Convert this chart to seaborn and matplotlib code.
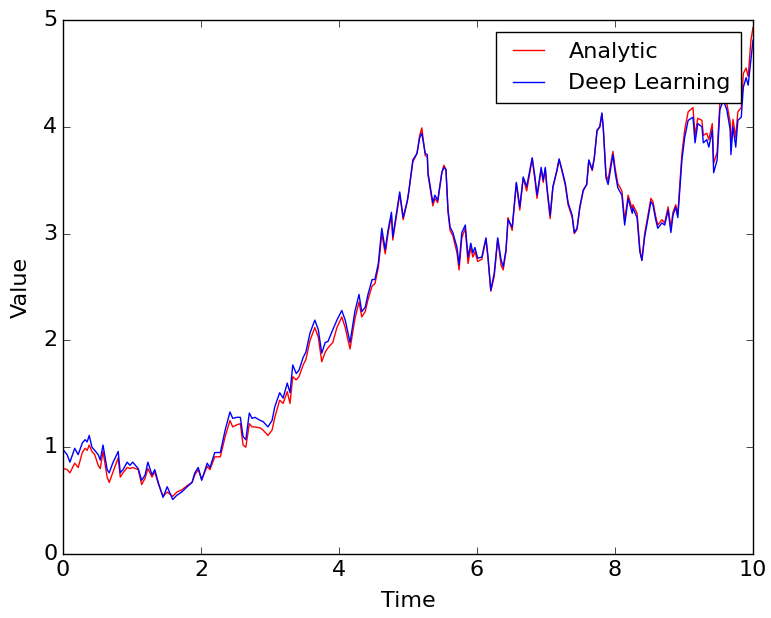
import matplotlib
matplotlib.use("Agg")
import matplotlib.pyplot as plt
import seaborn as sns
import numpy as np
import pandas as pd

time = [0.01, 0.06, 0.10, 0.17, 0.22, 0.28, 0.32, 0.35, 0.38, 0.42, 0.46, 0.51, 0.54, 0.58, 0.64, 0.67, 0.72, 0.80, 0.83, 0.87,
        0.93, 0.97, 1.01, 1.09, 1.14, 1.19, 1.23, 1.29, 1.33, 1.38, 1.45, 1.51, 1.55, 1.59, 1.65, 1.72, 1.80, 1.87, 1.91, 1.96,
        2.01, 2.09, 2.13, 2.20, 2.28, 2.35, 2.42, 2.46, 2.52, 2.57, 2.61, 2.65, 2.70, 2.74, 2.78, 2.86, 2.90, 2.97, 3.03, 3.07,
        3.14, 3.19, 3.25, 3.29, 3.33, 3.38, 3.42, 3.48, 3.52, 3.58, 3.65, 3.70, 3.75, 3.80, 3.84, 3.91, 3.97, 4.04, 4.09, 4.16,
        4.23, 4.29, 4.33, 4.38, 4.42, 4.48, 4.52, 4.57, 4.62, 4.67, 4.71, 4.76, 4.78, 4.84, 4.88, 4.93, 4.99, 5.01, 5.07, 5.13,
        5.17, 5.20, 5.25, 5.28, 5.29, 5.36, 5.39, 5.43, 5.49, 5.52, 5.55, 5.58, 5.61, 5.65, 5.71, 5.74, 5.78, 5.83, 5.87, 5.91,
        5.94, 5.97, 6.01, 6.07, 6.13, 6.16, 6.20, 6.25, 6.30, 6.35, 6.38, 6.42, 6.45, 6.51, 6.57, 6.62, 6.67, 6.72, 6.80, 6.84,
        6.87, 6.93, 6.96, 6.99, 7.01, 7.06, 7.10, 7.16, 7.19, 7.23, 7.28, 7.32, 7.38, 7.41, 7.45, 7.49, 7.54, 7.59, 7.62, 7.67,
        7.70, 7.74, 7.78, 7.81, 7.83, 7.87, 7.90, 7.94, 7.97, 8.00, 8.04, 8.10, 8.14, 8.19, 8.25, 8.26, 8.32, 8.36, 8.39, 8.43,
        8.48, 8.52, 8.55, 8.59, 8.62, 8.68, 8.72, 8.77, 8.81, 8.84, 8.88, 8.91, 8.97, 9.01, 9.06, 9.13, 9.16, 9.20, 9.26, 9.28,
        9.33, 9.36, 9.41, 9.43, 9.48, 9.52, 9.57, 9.62, 9.67, 9.68, 9.71, 9.75, 9.78, 9.83, 9.86, 9.90, 9.93, 9.97, 10.00]

deep_learning = [0.97, 0.93, 0.86, 0.99, 0.93, 1.04, 1.07, 1.05, 1.11, 1.00, 0.97, 0.93, 0.88, 1.02, 0.79, 0.76, 0.85, 0.96, 0.76, 0.79,
                 0.86, 0.83, 0.86, 0.80, 0.69, 0.74, 0.86, 0.74, 0.79, 0.67, 0.53, 0.63, 0.57, 0.51, 0.55, 0.58, 0.63, 0.67, 0.76, 0.81,
                 0.69, 0.85, 0.81, 0.95, 0.95, 1.16, 1.33, 1.27, 1.28, 1.28, 1.10, 1.07, 1.32, 1.27, 1.28, 1.25, 1.24, 1.19, 1.25, 1.38,
                 1.51, 1.46, 1.60, 1.51, 1.77, 1.69, 1.72, 1.84, 1.89, 2.07, 2.19, 2.10, 1.88, 1.98, 1.99, 2.10, 2.19, 2.28, 2.19, 1.98,
                 2.27, 2.43, 2.27, 2.31, 2.43, 2.57, 2.57, 2.72, 3.05, 2.85, 3.03, 3.20, 2.97, 3.22, 3.39, 3.15, 3.31, 3.39, 3.69, 3.75,
                 3.90, 3.94, 3.75, 3.74, 3.57, 3.29, 3.36, 3.31, 3.57, 3.62, 3.60, 3.22, 3.06, 3.01, 2.87, 2.71, 3.01, 3.08, 2.78, 2.91,
                 2.82, 2.87, 2.77, 2.78, 2.96, 2.78, 2.47, 2.63, 2.96, 2.75, 2.69, 2.85, 3.13, 3.06, 3.48, 3.25, 3.53, 3.44, 3.71, 3.53,
                 3.36, 3.62, 3.50, 3.62, 3.46, 3.17, 3.44, 3.60, 3.70, 3.60, 3.47, 3.29, 3.17, 3.01, 3.05, 3.25, 3.41, 3.46, 3.69, 3.60,
                 3.71, 3.97, 4.00, 4.13, 3.99, 3.52, 3.46, 3.62, 3.74, 3.58, 3.43, 3.36, 3.08, 3.33, 3.19, 3.24, 3.15, 2.83, 2.75, 2.97,
                 3.15, 3.30, 3.27, 3.13, 3.05, 3.10, 3.08, 3.22, 3.01, 3.17, 3.25, 3.15, 3.69, 3.90, 4.06, 4.09, 3.85, 4.03, 4.00, 3.85,
                 3.88, 3.81, 3.97, 3.57, 3.69, 4.16, 4.25, 4.16, 3.97, 3.74, 4.00, 3.81, 4.06, 4.09, 4.37, 4.46, 4.39, 4.63, 4.81]

analytic = [0.80, 0.79, 0.76, 0.85, 0.81, 0.95, 0.99, 0.97, 1.02, 0.96, 0.93, 0.83, 0.80, 0.96, 0.72, 0.67, 0.76, 0.90, 0.72, 0.76,
            0.81, 0.80, 0.81, 0.79, 0.65, 0.71, 0.80, 0.72, 0.77, 0.66, 0.54, 0.58, 0.56, 0.54, 0.58, 0.60, 0.64, 0.67, 0.74, 0.79,
            0.70, 0.82, 0.79, 0.91, 0.91, 1.10, 1.25, 1.19, 1.21, 1.22, 1.02, 1.00, 1.22, 1.19, 1.19, 1.18, 1.16, 1.11, 1.16, 1.28,
            1.44, 1.41, 1.52, 1.41, 1.66, 1.63, 1.66, 1.77, 1.82, 2.00, 2.12, 2.03, 1.80, 1.89, 1.93, 1.98, 2.12, 2.22, 2.12, 1.92,
            2.20, 2.36, 2.22, 2.27, 2.38, 2.51, 2.53, 2.68, 3.00, 2.81, 3.00, 3.17, 2.94, 3.20, 3.37, 3.13, 3.30, 3.38, 3.67, 3.75,
            3.92, 3.99, 3.73, 3.72, 3.55, 3.26, 3.33, 3.29, 3.57, 3.64, 3.60, 3.20, 3.03, 2.98, 2.82, 2.66, 2.96, 3.05, 2.72, 2.87,
            2.78, 2.83, 2.74, 2.76, 2.95, 2.76, 2.46, 2.60, 2.95, 2.70, 2.66, 2.83, 3.15, 3.03, 3.47, 3.22, 3.52, 3.40, 3.70, 3.50,
            3.33, 3.60, 3.48, 3.61, 3.44, 3.14, 3.43, 3.59, 3.69, 3.59, 3.45, 3.27, 3.15, 3.00, 3.04, 3.24, 3.40, 3.46, 3.68, 3.59,
            3.71, 3.96, 4.00, 4.12, 3.99, 3.55, 3.50, 3.66, 3.77, 3.62, 3.47, 3.40, 3.12, 3.36, 3.23, 3.27, 3.19, 2.86, 2.75, 3.00,
            3.18, 3.33, 3.30, 3.16, 3.08, 3.13, 3.10, 3.25, 3.05, 3.20, 3.27, 3.18, 3.75, 3.97, 4.14, 4.18, 3.92, 4.08, 4.06, 3.92,
            3.94, 3.88, 4.03, 3.66, 3.76, 4.22, 4.31, 4.22, 4.04, 3.81, 4.07, 3.90, 4.14, 4.18, 4.50, 4.55, 4.47, 4.81, 4.93]

x_ticks = [0, 2, 4, 6, 8, 10]
y_ticks = [0, 1, 2, 3, 4, 5]

plt.style.use("classic")
plt.rcParams["font.family"] = ["DejaVu Sans"]

fig = plt.figure(figsize=(7.71, 6.18), dpi=100, facecolor="white")
ax = fig.add_axes([63 / 771, 64 / 618, 690 / 771, 534 / 618])

df = pd.DataFrame({"Time": time, "Analytic": analytic, "Deep Learning": deep_learning})
sns.lineplot(data=df, x="Time", y="Analytic", color="red", linewidth=1.0, label="Analytic", ax=ax, sort=False)
sns.lineplot(data=df, x="Time", y="Deep Learning", color="blue", linewidth=1.0, label="Deep Learning", ax=ax, sort=False)

ax.set_xlim(0, 10)
ax.set_ylim(0, 5)
ax.set_xticks(x_ticks)
ax.set_yticks(y_ticks)
ax.tick_params(labelsize=16, direction="in", top=True, right=True, length=5)
ax.set_xlabel("Time", fontsize=16, labelpad=8)
ax.set_ylabel("Value", fontsize=16, labelpad=9)
leg = ax.legend(loc="upper right", fontsize=16, handlelength=2.0, handletextpad=0.8, borderpad=0.45,
                labelspacing=0.5, borderaxespad=0.55, fancybox=False, framealpha=1.0)
leg.get_frame().set_edgecolor("black")

fig.savefig("out.png", dpi=100, facecolor="white")
